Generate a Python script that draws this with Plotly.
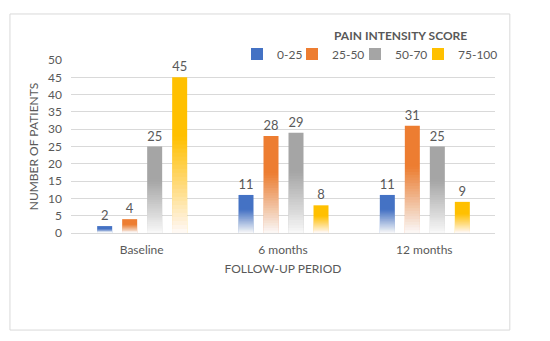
import plotly.graph_objects as go

periods = ["Baseline", "6 months", "12 months"]
series_names = ["0-25", "25-50", "50-70", "75-100"]
v_0_25 = [2, 11, 11]
v_25_50 = [4, 28, 31]
v_50_70 = [25, 29, 25]
v_75_100 = [45, 8, 9]
y_ticks = [0, 5, 10, 15, 20, 25, 30, 35, 40, 45, 50]

series_values = [v_0_25, v_25_50, v_50_70, v_75_100]
colors = ["#4472C4", "#ED7D31", "#A5A5A5", "#FFC000"]
legend_ids = ["legend", "legend2", "legend3", "legend4"]
legend_text_px = [277, 332, 395, 458]   # page x where each legend label starts

cat_px = 141.33
bar_w = 15 / cat_px
pitch = 25 / cat_px
start = -44.5 / cat_px

N = 24          # gradient layers
FADE = 0.62     # fraction of bar height that fades to white

fig = go.Figure()
for i, (name, vals, col) in enumerate(zip(series_names, series_values, colors)):
    off = start + i * pitch
    fig.add_trace(go.Bar(
        x=periods, y=vals, name=name, legend=legend_ids[i],
        marker=dict(color=col, line=dict(width=0)),
        width=bar_w, offset=off,
        text=[str(v) for v in vals], textposition="outside",
        textfont=dict(color="#595959", size=13, family="Lato"),
        cliponaxis=False,
    ))
for i, vals in enumerate(series_values):
    off = start + i * pitch
    for k in range(1, N + 1):
        a = 0.5 / N if k == N else 1.0 / (k + 0.5)
        fig.add_trace(go.Bar(
            x=periods, y=[v * FADE * k / N for v in vals],
            marker=dict(color="white", opacity=a, line=dict(width=0)),
            width=bar_w, offset=off, showlegend=False, hoverinfo="skip",
        ))

# outer chart border
fig.add_shape(type="rect", xref="paper", yref="paper",
              x0=-0.144, x1=1.035, y0=-0.561, y1=1.266,
              line=dict(color="#D9D9D9", width=1), fillcolor="rgba(0,0,0,0)", layer="below")

fig.add_annotation(text="<b>PAIN INTENSITY SCORE</b>", xref="paper", yref="paper",
                   x=0.778, y=1.14, xanchor="center", yanchor="middle", showarrow=False,
                   font=dict(size=12, color="#595959", family="Lato"))

legend_common = dict(orientation="h", xanchor="left", yanchor="middle", y=1.035,
                     font=dict(size=12, color="#595959"), itemwidth=30,
                     bgcolor="rgba(0,0,0,0)", borderwidth=0)
legends = {}
for lid, tpx in zip(legend_ids, legend_text_px):
    legends[lid] = dict(legend_common, x=(tpx - 40 - 71) / 424)

fig.update_layout(
    width=542, height=333,
    margin=dict(l=63, r=55, t=52, b=108),
    paper_bgcolor="white", plot_bgcolor="white",
    barmode="overlay",
    font=dict(family="Lato", color="#595959", size=12),
    showlegend=True,
    xaxis=dict(showgrid=False, showline=False, ticks="", tickfont=dict(size=12),
               ticklabelstandoff=8,
               title=dict(text="FOLLOW-UP PERIOD", font=dict(size=12), standoff=8),
               fixedrange=True),
    yaxis=dict(range=[0, 50], tickvals=y_ticks, showgrid=True, gridcolor="#D9D9D9",
               gridwidth=1, zeroline=True, zerolinecolor="#D9D9D9", zerolinewidth=1,
               ticks="", tickfont=dict(size=12), ticklabelstandoff=8,
               title=dict(text="NUMBER OF PATIENTS", font=dict(size=12), standoff=6),
               fixedrange=True),
    **legends,
)

fig.write_html("out.html")
